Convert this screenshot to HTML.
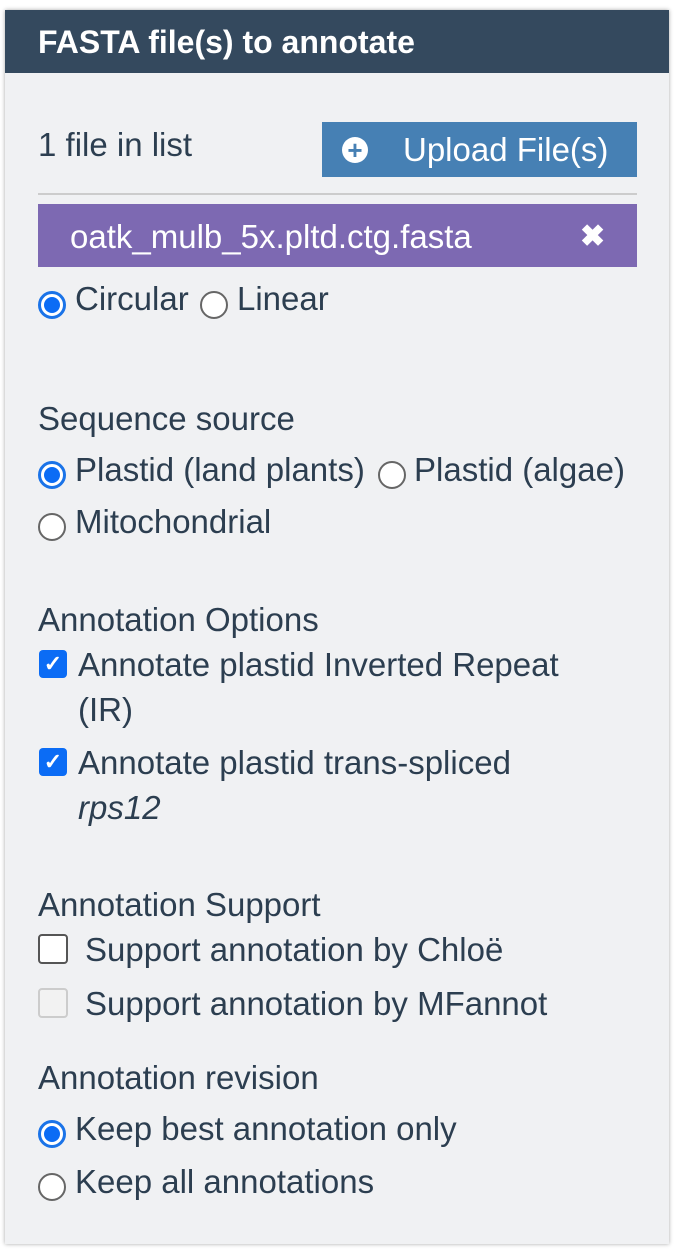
<!DOCTYPE html>
<html><head><meta charset="utf-8"><style>
body{margin:0;width:676px;height:1256px;background:#fff;position:relative;overflow:hidden;font-family:"Liberation Sans",sans-serif;}
.panel{position:absolute;left:5px;top:10px;width:664px;height:1234px;background:#f0f1f3;box-shadow:0 0 4px rgba(0,0,0,.35);}
.hd{position:absolute;left:5px;top:10px;width:664px;height:63px;background:#34495e;}
.t{position:absolute;font-size:33px;line-height:40px;color:#2c3e50;white-space:nowrap;}
.r{position:absolute;width:28px;height:28px;border-radius:50%;border:2px solid #666;background:#fff;box-sizing:border-box;}
.r.on{border:3px solid #1a73e8;background:#fff;}
.r.on::after{content:"";position:absolute;left:3px;top:3px;width:16px;height:16px;border-radius:50%;background:#0b6cf5;}
.cb{position:absolute;width:28px;height:28px;border-radius:4px;background:#0b6cf5;color:#fff;font-size:22px;line-height:28px;text-align:center;font-weight:bold;}
.cbe{position:absolute;width:30px;height:30px;border-radius:4px;border:2px solid #555;background:#fff;box-sizing:border-box;}
</style></head><body>
<div class="panel"></div>
<div class="hd"></div>
<div class="t" style="left:38px;top:22px;color:#fff;font-weight:bold;font-size:32px;">FASTA file(s) to annotate</div>
<div class="t" style="left:38px;top:125px;">1 file in list</div>
<div style="position:absolute;left:322px;top:122px;width:315px;height:55px;background:#4680b4;"></div>
<div style="position:absolute;left:342px;top:137px;width:26px;height:26px;border-radius:50%;background:#fff;color:#4680b4;font-weight:bold;font-size:26px;line-height:26px;text-align:center;">+</div>
<div class="t" style="left:403px;top:130px;color:#fff;">Upload File(s)</div>
<div style="position:absolute;left:38px;top:193px;width:599px;height:2px;background:#ccc;"></div>
<div style="position:absolute;left:38px;top:204px;width:599px;height:63px;background:#7d69b2;"></div>
<div class="t" style="left:70px;top:217px;color:#fff;">oatk_mulb_5x.pltd.ctg.fasta</div>
<div class="t" style="left:580px;top:217px;color:#fff;font-weight:bold;font-size:30px;">✖</div>
<div class="r on" style="left:38px;top:291px;"></div>
<div class="t" style="left:75px;top:279px;">Circular</div>
<div class="r" style="left:200px;top:291px;"></div>
<div class="t" style="left:237px;top:279px;">Linear</div>
<div class="t" style="left:38px;top:399px;">Sequence source</div>
<div class="r on" style="left:38px;top:461px;"></div>
<div class="t" style="left:75px;top:450px;">Plastid (land plants)</div>
<div class="r" style="left:378px;top:461px;"></div>
<div class="t" style="left:414px;top:450px;">Plastid (algae)</div>
<div class="r" style="left:38px;top:513px;"></div>
<div class="t" style="left:75px;top:502px;">Mitochondrial</div>
<div class="t" style="left:38px;top:600px;">Annotation Options</div>
<div class="cb" style="left:39px;top:650px;">✓</div>
<div class="t" style="left:78px;top:645px;">Annotate plastid Inverted Repeat</div>
<div class="t" style="left:78px;top:690px;">(IR)</div>
<div class="cb" style="left:39px;top:748px;">✓</div>
<div class="t" style="left:78px;top:743px;">Annotate plastid trans-spliced</div>
<div class="t" style="left:78px;top:788px;font-style:italic;">rps12</div>
<div class="t" style="left:38px;top:885px;">Annotation Support</div>
<div class="cbe" style="left:38px;top:934px;"></div>
<div class="t" style="left:85px;top:930px;">Support annotation by Chloë</div>
<div class="cbe" style="left:38px;top:988px;border-color:#ccc;background:#f2f2f2;"></div>
<div class="t" style="left:85px;top:984px;">Support annotation by MFannot</div>
<div class="t" style="left:38px;top:1058px;">Annotation revision</div>
<div class="r on" style="left:38px;top:1120px;"></div>
<div class="t" style="left:75px;top:1109px;">Keep best annotation only</div>
<div class="r" style="left:38px;top:1173px;"></div>
<div class="t" style="left:75px;top:1162px;">Keep all annotations</div>
</body></html>
